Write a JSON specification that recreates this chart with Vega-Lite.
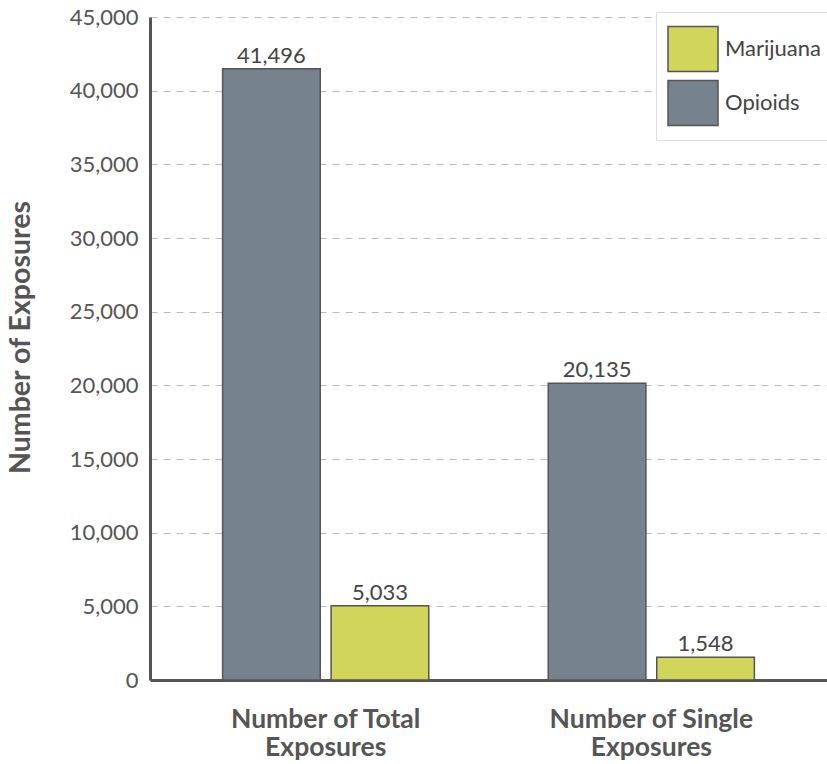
{
  "$schema": "https://vega.github.io/schema/vega-lite/v6.json",
  "width": 677,
  "height": 663,
  "autosize": {"type": "none"},
  "padding": {"left": 150, "top": 17, "right": 0, "bottom": 84},
  "background": "white",
  "config": {
    "font": "Lato",
    "view": {"stroke": null}
  },
  "data": {
    "values": [
      {"measure": "Number of Total Exposures", "substance": "Opioids", "exposures": 41496},
      {"measure": "Number of Total Exposures", "substance": "Marijuana", "exposures": 5033},
      {"measure": "Number of Single Exposures", "substance": "Opioids", "exposures": 20135},
      {"measure": "Number of Single Exposures", "substance": "Marijuana", "exposures": 1548}
    ]
  },
  "encoding": {
    "x": {
      "field": "measure",
      "type": "nominal",
      "sort": ["Number of Total Exposures", "Number of Single Exposures"],
      "scale": {"paddingInner": 0.367, "paddingOuter": 0.223},
      "axis": {
        "title": null,
        "labelAngle": 0,
        "labelFont": "Lato",
        "labelFontSize": 26.5,
        "labelFontWeight": "bold",
        "labelColor": "#555555",
        "labelPadding": 26,
        "labelLineHeight": 28,
        "labelLimit": 400,
        "labelExpr": "[replace(datum.label, ' Exposures', ''), 'Exposures']",
        "ticks": false,
        "domainColor": "#555555",
        "domainWidth": 3,
        "grid": false
      }
    },
    "xOffset": {
      "field": "substance",
      "type": "nominal",
      "sort": ["Opioids", "Marijuana"],
      "scale": {"paddingInner": 0.1, "paddingOuter": 0}
    },
    "y": {
      "field": "exposures",
      "type": "quantitative",
      "scale": {"domain": [0, 45000], "nice": false},
      "axis": {
        "title": "Number of Exposures",
        "titleFont": "Lato",
        "titleFontSize": 28.5,
        "titleFontWeight": "bold",
        "titleColor": "#555555",
        "titleX": -115,
        "titleY": 320,
        "titleLimit": 600,
        "values": [0, 5000, 10000, 15000, 20000, 25000, 30000, 35000, 40000, 45000],
        "labelExpr": "format(datum.value, ',')",
        "labelFont": "Lato",
        "labelFontSize": 22,
        "labelColor": "#555555",
        "labelPadding": 12,
        "ticks": false,
        "domainColor": "#555555",
        "domainWidth": 3,
        "grid": true,
        "gridColor": "#bbbbbb",
        "gridDash": [7, 6],
        "gridWidth": 1.2
      }
    }
  },
  "layer": [
    {
      "mark": {"type": "bar", "stroke": "#555555", "strokeWidth": 1.5},
      "encoding": {
        "color": {
          "field": "substance",
          "type": "nominal",
          "scale": {"domain": ["Marijuana", "Opioids"], "range": ["#d1d55a", "#76828e"]},
          "legend": {
            "title": null,
            "orient": "none",
            "legendX": 506,
            "legendY": -5,
            "symbolType": "M-1,-0.9h2v1.8h-2z",
            "symbolSize": 2500,
            "symbolStrokeColor": "#555555",
            "symbolStrokeWidth": 1.5,
            "symbolOpacity": 1,
            "labelFont": "Lato",
            "labelFontSize": 22,
            "labelColor": "#444444",
            "labelOffset": 6,
            "rowPadding": 2,
            "padding": 11,
            "fillColor": "white",
            "strokeColor": "#dddddd"
          }
        }
      }
    },
    {
      "mark": {"type": "text", "baseline": "alphabetic", "dy": -6, "fontSize": 22, "color": "#444444", "font": "Lato"},
      "encoding": {
        "text": {"field": "exposures", "type": "quantitative", "format": ","}
      }
    }
  ]
}
